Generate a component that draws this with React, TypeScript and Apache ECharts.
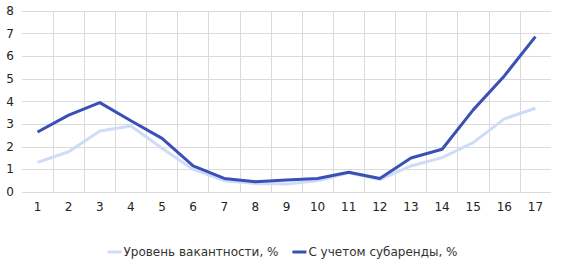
import React, { useEffect, useRef } from "react";
import * as echarts from "echarts";

const categories = ["1", "2", "3", "4", "5", "6", "7", "8", "9", "10", "11", "12", "13", "14", "15", "16", "17"];
const vacancy = [1.31, 1.78, 2.7, 2.92, 1.93, 1.0, 0.5, 0.38, 0.35, 0.5, 0.85, 0.55, 1.15, 1.52, 2.18, 3.23, 3.7];
const withSublease = [2.65, 3.4, 3.95, 3.15, 2.37, 1.15, 0.6, 0.45, 0.53, 0.6, 0.87, 0.6, 1.5, 1.89, 3.63, 5.13, 6.87];
const seriesNames = ["Уровень вакантности, %", "С учетом субаренды, %"];

export default function App() {
  const ref = useRef<HTMLDivElement>(null);
  useEffect(() => {
    document.body.style.margin = "0";
    if (!ref.current) return;
    const chart = echarts.init(ref.current, undefined, { renderer: "svg" });
    const font = "Verdana, 'DejaVu Sans', sans-serif";
    chart.setOption({
      animation: false,
      textStyle: { fontFamily: font },
      grid: { left: 22, right: 14, top: 11, bottom: 85, containLabel: false },
      legend: {
        bottom: 14,
        left: "center",
        itemWidth: 14,
        itemHeight: 3,
        itemGap: 14,
        icon: "rect",
        textStyle: { fontSize: 12, color: "#333", fontFamily: font, padding: [0, 0, 0, -3] },
        data: seriesNames,
      },
      xAxis: {
        type: "category",
        data: categories,
        boundaryGap: true,
        axisLine: { show: false },
        axisTick: { show: false },
        axisLabel: { color: "#222", fontSize: 12, margin: 9, fontFamily: font },
        splitLine: { show: true, showMinLine: false, showMaxLine: false, lineStyle: { color: "#dadada", width: 1 } },
      },
      yAxis: {
        type: "value",
        min: 0,
        max: 8,
        interval: 1,
        axisLine: { show: false },
        axisTick: { show: false },
        axisLabel: { color: "#222", fontSize: 12, margin: 8, fontFamily: font },
        splitLine: { show: true, lineStyle: { color: "#dadada", width: 1 } },
      },
      series: [
        {
          name: seriesNames[0],
          type: "line",
          data: vacancy,
          symbol: "none",
          lineStyle: { color: "#cfdcf8", width: 3 },
          itemStyle: { color: "#cfdcf8" },
        },
        {
          name: seriesNames[1],
          type: "line",
          data: withSublease,
          symbol: "none",
          lineStyle: { color: "#3a50b6", width: 3 },
          itemStyle: { color: "#3a50b6" },
        },
      ],
    });
    return () => chart.dispose();
  }, []);
  return <div ref={ref} style={{ width: 565, height: 277 }} />;
}
